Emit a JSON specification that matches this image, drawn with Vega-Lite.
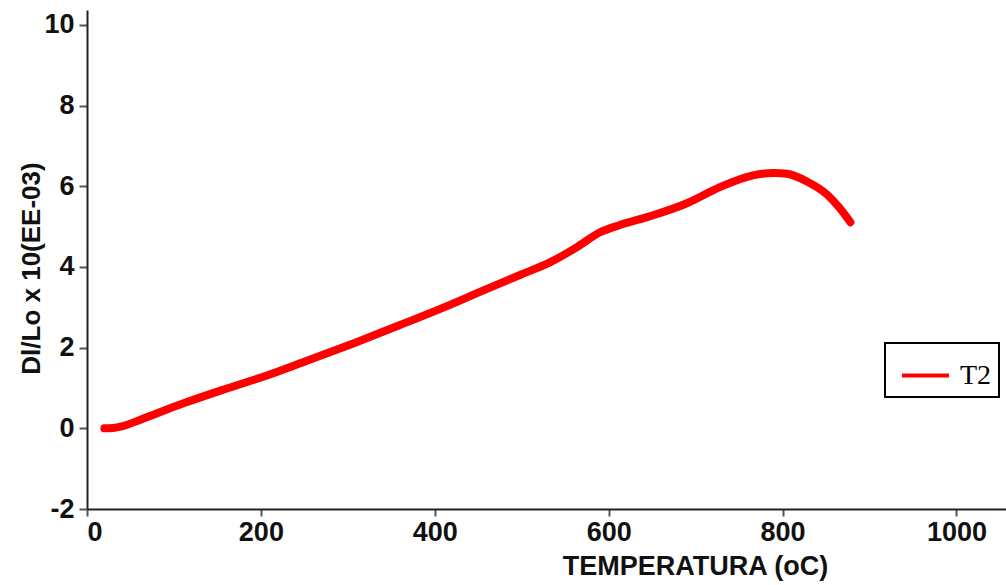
{
  "$schema": "https://vega.github.io/schema/vega-lite/v6.json",
  "width": 919,
  "height": 499,
  "autosize": {"type": "none"},
  "padding": {"left": 87, "top": 10, "right": 0, "bottom": 76},
  "background": "white",
  "config": {"view": {"stroke": null}},
  "data": {"values": [
    {"serie": "T2", "t": 20, "v": 0.0},
    {"serie": "T2", "t": 30, "v": 0.01},
    {"serie": "T2", "t": 40, "v": 0.05},
    {"serie": "T2", "t": 60, "v": 0.2},
    {"serie": "T2", "t": 80, "v": 0.37},
    {"serie": "T2", "t": 115, "v": 0.65},
    {"serie": "T2", "t": 160, "v": 0.98},
    {"serie": "T2", "t": 207, "v": 1.31},
    {"serie": "T2", "t": 250, "v": 1.65},
    {"serie": "T2", "t": 307, "v": 2.11},
    {"serie": "T2", "t": 360, "v": 2.56},
    {"serie": "T2", "t": 414, "v": 3.03},
    {"serie": "T2", "t": 456, "v": 3.42},
    {"serie": "T2", "t": 500, "v": 3.82},
    {"serie": "T2", "t": 533, "v": 4.12},
    {"serie": "T2", "t": 564, "v": 4.5},
    {"serie": "T2", "t": 590, "v": 4.86},
    {"serie": "T2", "t": 613, "v": 5.04},
    {"serie": "T2", "t": 648, "v": 5.26},
    {"serie": "T2", "t": 690, "v": 5.58},
    {"serie": "T2", "t": 728, "v": 5.98},
    {"serie": "T2", "t": 766, "v": 6.27},
    {"serie": "T2", "t": 790, "v": 6.33},
    {"serie": "T2", "t": 805, "v": 6.31},
    {"serie": "T2", "t": 828, "v": 6.12},
    {"serie": "T2", "t": 851, "v": 5.8},
    {"serie": "T2", "t": 865, "v": 5.48},
    {"serie": "T2", "t": 878, "v": 5.11}
  ]},
  "mark": {"type": "line", "strokeWidth": 8, "strokeCap": "round", "strokeJoin": "round", "interpolate": "monotone"},
  "encoding": {
    "x": {
      "field": "t", "type": "quantitative",
      "scale": {"domain": [0, 1057], "nice": false, "zero": false},
      "axis": {
        "title": "TEMPERATURA (oC)",
        "values": [0, 200, 400, 600, 800, 1000],
        "labelExpr": "'' + datum.value",
        "grid": false,
        "domainColor": "#222222", "domainWidth": 2,
        "tickColor": "#555555", "tickWidth": 2, "tickSize": 7,
        "labelFont": "Liberation Sans", "labelFontSize": 27, "labelFontWeight": "bold", "labelColor": "#111111", "labelPadding": 3,
        "titleFont": "Liberation Sans", "titleFontSize": 27, "titleFontWeight": "bold", "titleColor": "#111111",
        "titleX": 608, "titleY": 65, "titleBaseline": "alphabetic", "titleAlign": "center"
      }
    },
    "y": {
      "field": "v", "type": "quantitative",
      "scale": {"domain": [-2, 10.37], "nice": false, "zero": false},
      "axis": {
        "title": "Dl/Lo x 10(EE-03)",
        "values": [-2, 0, 2, 4, 6, 8, 10],
        "labelExpr": "'' + datum.value",
        "grid": false,
        "domainColor": "#222222", "domainWidth": 2,
        "tickColor": "#555555", "tickWidth": 2, "tickSize": 8,
        "labelFont": "Liberation Sans", "labelFontSize": 27, "labelFontWeight": "bold", "labelColor": "#111111", "labelPadding": 5,
        "titleFont": "Liberation Sans", "titleFontSize": 26, "titleFontWeight": "bold", "titleColor": "#111111",
        "titleX": -48, "titleY": 258, "titleAngle": -90, "titleBaseline": "alphabetic", "titleAlign": "center"
      }
    },
    "color": {
      "field": "serie", "type": "nominal",
      "scale": {"range": ["#ff0000"]},
      "legend": {
        "title": null,
        "orient": "none",
        "legendX": 798,
        "legendY": 333,
        "padding": 7,
        "symbolOffset": 8,
        "fillColor": "white",
        "strokeColor": "black",
        "cornerRadius": 0,
        "symbolType": "stroke",
        "symbolSize": 2209,
        "symbolStrokeWidth": 4,
        "labelFont": "Liberation Serif",
        "labelFontSize": 28,
        "labelColor": "black",
        "labelOffset": 9,
        "encode": {"legend": {"update": {"strokeWidth": {"value": 2}}}}
      }
    }
  }
}
